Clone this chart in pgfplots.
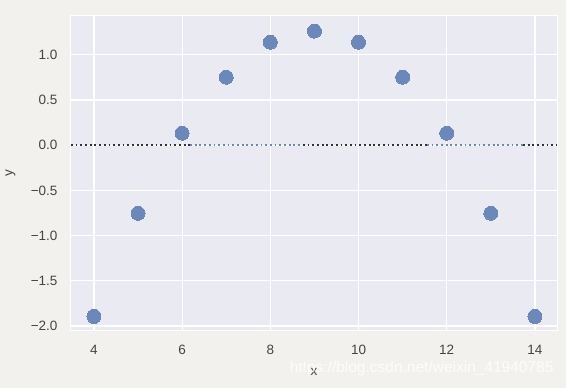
\documentclass[border=0pt]{standalone}
\usepackage{pgfplots}
\pgfplotsset{compat=1.18}
\usepackage{fontspec}
\setmainfont{Liberation Sans}
\definecolor{pagebg}{HTML}{F2F1ED}
\definecolor{axbg}{HTML}{EAEAF2}
\definecolor{dotc}{HTML}{6B88BB}
\definecolor{txt}{HTML}{444444}
\begin{document}
\begin{tikzpicture}[x=1pt,y=1pt]
\fill[pagebg] (0,0) rectangle (566,388);
\begin{axis}[
  at={(71pt,57pt)}, anchor=south west,
  scale only axis, width=486pt, height=315pt,
  xmin=3.48, xmax=14.5, ymin=-2.055, ymax=1.43,
  axis background/.style={fill=axbg},
  axis line style={white, line width=1pt},
  grid=major, major grid style={white, line width=1.2pt},
  tick style={draw=none},
  xtick={4,6,8,10,12,14},
  xticklabels={4,6,8,10,12,14},
  ytick={-2,-1.5,-1,-0.5,0,0.5,1},
  yticklabels={−2.0,−1.5,−1.0,−0.5,0.0,0.5,1.0},
  ticklabel style={font=\fontsize{13.5}{15}\selectfont, text=txt},
  xticklabel style={yshift=-11pt},
  yticklabel style={xshift=-10pt},
  xlabel={x}, ylabel={y},
  label style={font=\fontsize{13.5}{15}\selectfont, text=txt},
  xlabel style={at={(axis description cs:0.5,0)}, anchor=north, yshift=-34pt},
  ylabel style={at={(axis description cs:0,0.5)}, anchor=south, yshift=52pt},
  clip=false,
  dk/.style={black!80, line width=1.8pt, dash pattern=on 1.8pt off 2.9pt},
  bl/.style={dotc, line width=1.8pt, dash pattern=on 1.8pt off 2.9pt},
]
\addplot[dk] coordinates {(3.48,0) (6.18,0)};
\addplot[bl] coordinates {(6.18,0) (8.74,0)};
\addplot[dk] coordinates {(8.74,0) (11.55,0)};
\addplot[bl] coordinates {(11.55,0) (13.73,0)};
\addplot[dk] coordinates {(13.73,0) (14.5,0)};
\addplot[only marks, mark=*, mark size=7pt, mark options={fill=dotc, draw=dotc, line width=0pt}] coordinates {
(4,-1.894) (5,-0.753) (6,0.133) (7,0.753) (8,1.14) (9,1.263) (10,1.14) (11,0.753) (12,0.133) (13,-0.753) (14,-1.894)};
\end{axis}
\node[anchor=base east, text=white, opacity=0.85, font=\fontsize{15.5}{17}\selectfont] at (557,15) {https://blog.csdn.net/weixin\_41940785};
\end{tikzpicture}
\end{document}
